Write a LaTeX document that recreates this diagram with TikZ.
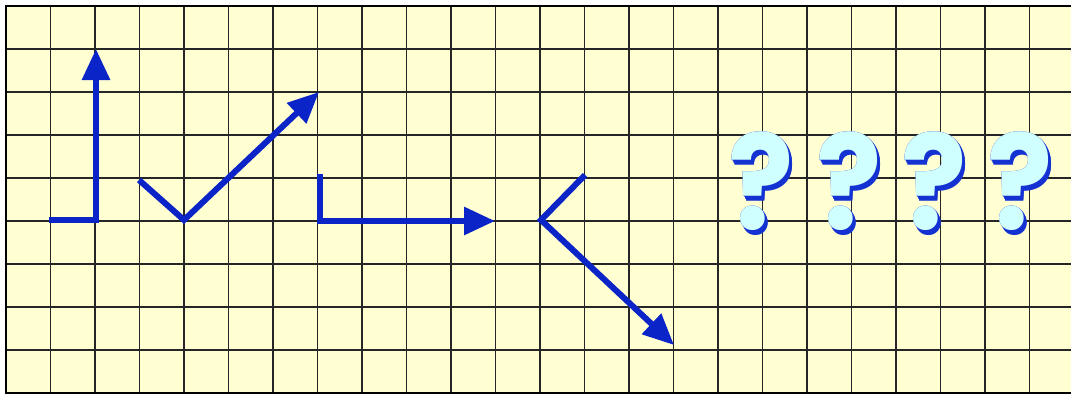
\documentclass[tikz,border=0pt]{standalone}
\usepackage{fontspec}
\newfontfamily\qfont{Poppins}[UprightFont=* Bold]
\usetikzlibrary{arrows.meta}
\definecolor{paper}{RGB}{255,255,210}
\definecolor{arrowblue}{RGB}{10,36,200}
\definecolor{qcyan}{RGB}{208,255,255}
\definecolor{qshadow}{RGB}{20,50,210}
\tikzset{
  gridline/.style={line width=1.4pt, black!85},
  frame/.style={line width=2.8pt, black},
  vec/.style={line width=6pt, arrowblue, -{Triangle[length=31pt,width=27pt]}},
  qmark/.style={font=\qfont\fontsize{132}{132}\selectfont, inner sep=0pt, anchor=base, xscale=0.92},
}
\begin{document}
\begin{tikzpicture}[x=1pt,y=-1pt]
\useasboundingbox (0,0) rectangle (1071,394);
\fill[paper] (6,6) rectangle (1071,393);
\foreach \i in {1,...,23} \draw[gridline] ({6+44.5*\i},6) -- ({6+44.5*\i},393);
\foreach \j in {1,...,8} \draw[gridline] (6,{6+43*\j}) -- (1071,{6+43*\j});
\draw[frame] (1071,6) -- (6,6) -- (6,393) -- (1071,393);
% arrow 1
\coordinate (a0) at (49,219.5);
\coordinate (a1) at (96,219.5);
\coordinate (a2) at (96,49);
\draw[vec] (a0) -- (a1) -- (a2);
% arrow 2
\coordinate (b0) at (139,180);
\coordinate (b1) at (184,220);
\coordinate (b2) at (319,92);
\draw[vec] (b0) -- (b1) -- (b2);
% arrow 3
\coordinate (c0) at (320,174);
\coordinate (c1) at (320,221);
\coordinate (c2) at (495,221);
\draw[vec] (c0) -- (c1) -- (c2);
% arrow 4
\coordinate (d0) at (585,175);
\coordinate (d1) at (541,220);
\coordinate (d2) at (674,345);
\draw[vec] (d0) -- (d1) -- (d2);
% question marks
\foreach \x [count=\k] in {761,849,934,1020} {
  \foreach \s in {1,2,3,4,5,6}
    \node[qmark, text=qshadow] at (\x+\s*0.6,229+\s*0.9) {?};
  \node[qmark, text=qcyan] (q\k) at (\x,229) {?};
}
\end{tikzpicture}
\end{document}
